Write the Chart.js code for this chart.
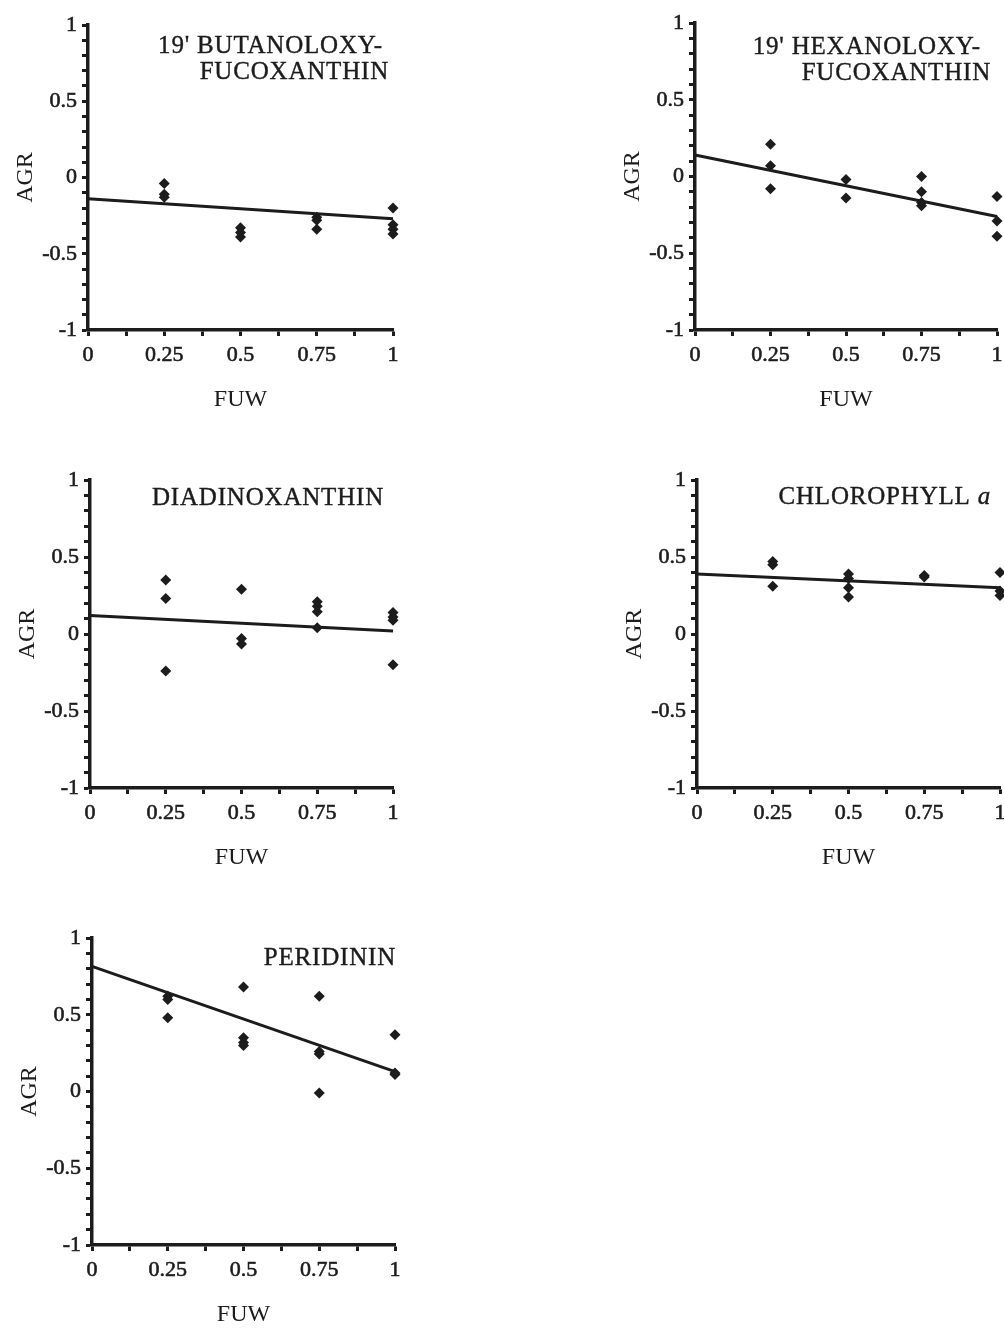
<!DOCTYPE html>
<html>
<head>
<meta charset="utf-8">
<script src="https://cdn.jsdelivr.net/npm/chart.js@4.4.0/dist/chart.umd.min.js"></script>
<style>
  body { margin: 0; width: 1004px; height: 1330px; background: #fff; position: relative; overflow: hidden; }
  canvas { position: absolute; }
  .ttl { position: absolute; font-family: "Liberation Serif", serif; font-size: 25px; line-height: 25px; letter-spacing: 0.8px;
         color: #1c1c1c; -webkit-text-stroke: 0.4px #1c1c1c; white-space: nowrap; }
</style>
</head>
<body>
<script>
// tick labels
const fuwTicks = [0, 0.25, 0.5, 0.75, 1];
const agrTicks = [-1, -0.5, 0, 0.5, 1];

// 19' butanoloxy-fucoxanthin
const butFuw = [0.25, 0.25, 0.25, 0.5, 0.5, 0.5, 0.75, 0.75, 0.75, 1, 1, 1, 1];
const butAgr = [-0.04, -0.11, -0.13, -0.33, -0.36, -0.39, -0.26, -0.28, -0.34, -0.20, -0.31, -0.34, -0.37];
const butFit = [-0.14, -0.27];

// 19' hexanoloxy-fucoxanthin
const hexFuw = [0.25, 0.25, 0.25, 0.5, 0.5, 0.75, 0.75, 0.75, 0.75, 1, 1, 1];
const hexAgr = [0.21, 0.07, -0.08, -0.02, -0.14, 0.0, -0.10, -0.17, -0.19, -0.13, -0.29, -0.39];
const hexFit = [0.14, -0.26];

// diadinoxanthin
const diaFuw = [0.25, 0.25, 0.25, 0.5, 0.5, 0.5, 0.75, 0.75, 0.75, 0.75, 1, 1, 1, 1];
const diaAgr = [0.35, 0.23, -0.24, 0.29, -0.03, -0.065, 0.21, 0.18, 0.145, 0.04, 0.14, 0.11, 0.09, -0.20];
const diaFit = [0.12, 0.02];

// chlorophyll a
const chlFuw = [0.25, 0.25, 0.25, 0.5, 0.5, 0.5, 0.5, 0.75, 0.75, 1, 1, 1];
const chlAgr = [0.47, 0.45, 0.31, 0.39, 0.36, 0.30, 0.24, 0.38, 0.37, 0.40, 0.28, 0.25];
const chlFit = [0.39, 0.30];

// peridinin
const perFuw = [0.25, 0.25, 0.25, 0.25, 0.5, 0.5, 0.5, 0.5, 0.75, 0.75, 0.75, 0.75, 1, 1, 1];
const perAgr = [1.04, 0.62, 0.60, 0.48, 0.68, 0.35, 0.32, 0.30, 0.62, 0.26, 0.245, -0.01, 0.37, 0.12, 0.11];
const perFit = [0.815, 0.13];

const fitX = [0, 1];

// where each plot area sits on the page
const panels = [
  { fuw: butFuw, agr: butAgr, fit: butFit, left: 88, right: 393, top: 25, bottom: 330,
    titles: [{ t: "19' BUTANOLOXY-", r: 383, y: 36 }, { t: 'FUCOXANTHIN', r: 389, y: 62 }] },
  { fuw: hexFuw, agr: hexAgr, fit: hexFit, left: 695, right: 997, top: 23, bottom: 330,
    titles: [{ t: "19' HEXANOLOXY-", r: 981, y: 37 }, { t: 'FUCOXANTHIN', r: 991, y: 63 }] },
  { fuw: diaFuw, agr: diaAgr, fit: diaFit, left: 90, right: 393, top: 480, bottom: 788,
    titles: [{ t: 'DIADINOXANTHIN', r: 384, y: 488 }] },
  { fuw: chlFuw, agr: chlAgr, fit: chlFit, left: 697, right: 1000, top: 480, bottom: 788,
    titles: [{ t: 'CHLOROPHYLL', it: 'a', r: 991, y: 487 }] },
  { fuw: perFuw, agr: perAgr, fit: perFit, left: 92, right: 395, top: 938, bottom: 1245,
    titles: [{ t: 'PERIDININ', r: 396, y: 948 }] }
];

const INK = '#1c1c1c';
const FONT = '"Liberation Serif", "Times New Roman", serif';
const YW = 88, XH = 90, PT = 22, PR = 14;

function r3(v) { return Math.round(v * 1000) / 1000; }

panels.forEach(function (p) {
  const cv = document.createElement('canvas');
  const w = YW + (p.right - p.left) + PR;
  const h = PT + (p.bottom - p.top) + XH;
  cv.width = w; cv.height = h;
  cv.style.width = w + 'px'; cv.style.height = h + 'px';
  cv.style.left = (p.left - YW) + 'px';
  cv.style.top = (p.top - PT) + 'px';
  document.body.appendChild(cv);

  const pts = p.fuw.map(function (x, i) { return { x: x, y: p.agr[i] }; });
  const line = fitX.map(function (x, i) { return { x: x, y: p.fit[i] }; });

  new Chart(cv.getContext('2d'), {
    type: 'scatter',
    data: {
      datasets: [
        { data: line, showLine: true, borderColor: INK, borderWidth: 3, pointRadius: 0, clip: false },
        { data: pts, pointStyle: 'rectRot', pointRadius: 5.5, backgroundColor: INK, borderWidth: 0, clip: false }
      ]
    },
    options: {
      responsive: false,
      animation: false,
      devicePixelRatio: 1,
      layout: { padding: { top: PT, right: PR, left: 0, bottom: 0 } },
      plugins: { legend: { display: false }, tooltip: { enabled: false } },
      scales: {
        x: {
          type: 'linear', min: 0, max: 1,
          afterFit: function (s) { s.height = XH; },
          border: { display: true, color: INK, width: 3.5 },
          grid: { drawOnChartArea: false, drawTicks: true, tickLength: 6, tickWidth: 3, tickColor: INK },
          ticks: {
            stepSize: 0.125, autoSkip: false, maxRotation: 0, padding: 6, color: INK,
            textStrokeColor: INK, textStrokeWidth: 0.6,
            font: { family: FONT, size: 22 },
            callback: function (v) { const r = r3(v); return fuwTicks.includes(r) ? String(r) : ''; }
          },
          title: { display: true, text: 'FUW', color: INK, font: { family: FONT, size: 24 }, padding: { top: 0, bottom: 6 } }
        },
        y: {
          type: 'linear', min: -1, max: 1,
          afterFit: function (s) { s.width = YW; },
          border: { display: true, color: INK, width: 3.5 },
          grid: { drawOnChartArea: false, drawTicks: true, tickLength: 6, tickWidth: 3, tickColor: INK },
          ticks: {
            stepSize: 0.1, autoSkip: false, padding: 5, color: INK,
            textStrokeColor: INK, textStrokeWidth: 0.6,
            font: { family: FONT, size: 22 },
            callback: function (v) { const r = r3(v); return agrTicks.includes(r) ? String(r) : ''; }
          },
          title: { display: true, text: 'AGR', color: INK, font: { family: FONT, size: 24 }, padding: { top: 11, bottom: 0 } }
        }
      }
    }
  });

  p.titles.forEach(function (t) {
    const d = document.createElement('div');
    d.className = 'ttl';
    d.textContent = t.t;
    if (t.it) {
      const i = document.createElement('i');
      i.textContent = ' ' + t.it;
      d.appendChild(i);
    }
    d.style.right = (1004 - t.r) + 'px';
    d.style.top = (t.y - 4) + 'px';
    document.body.appendChild(d);
  });
});
</script>
</body>
</html>
